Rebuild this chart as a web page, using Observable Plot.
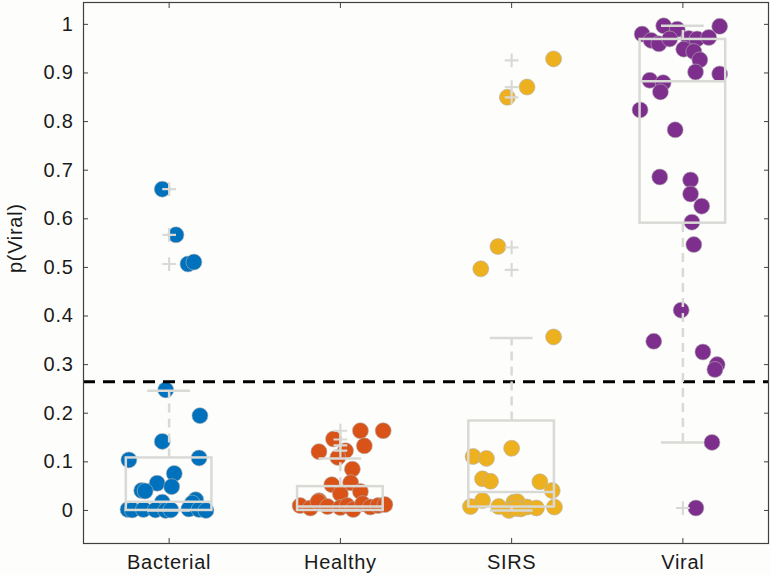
<!DOCTYPE html>
<html><head><meta charset="utf-8">
<script src="https://cdn.jsdelivr.net/npm/d3@7"></script>
<script src="https://cdn.jsdelivr.net/npm/@observablehq/plot@0.6"></script>
<style>
html,body{margin:0;padding:0;background:#fdfdfb;}
#chart svg{display:block;}
#chart svg text{letter-spacing:0.7px;}
</style></head><body><div id="chart"></div>
<script>
const categories = ["Bacterial", "Healthy", "SIRS", "Viral"];
const colors = ["#0072BD", "#D95319", "#EDB120", "#7E2F8E"];
const yTicks = [0, 0.1, 0.2, 0.3, 0.4, 0.5, 0.6, 0.7, 0.8, 0.9, 1];
const yTickLabels = ["0", "0.1", "0.2", "0.3", "0.4", "0.5", "0.6", "0.7", "0.8", "0.9", "1"];
const threshold = 0.265;

// jittered points: value and horizontal jitter (category units)
const bacterialValues = [0.661, 0.567, 0.507, 0.511, 0.248, 0.195, 0.142, 0.104, 0.108, 0.076, 0.056, 0.049, 0.041, 0.040, 0.022, 0.017, 0.015, 0.002, 0.001, 0.002, 0.001, 0.000, 0.001, 0.003, 0.002, 0.000];
const bacterialJitter = [-0.04, 0.04, 0.11, 0.145, -0.02, 0.18, -0.04, -0.235, 0.175, 0.03, -0.07, 0.015, -0.16, -0.14, 0.155, -0.04, 0.135, -0.24, -0.215, -0.15, -0.08, -0.02, 0.01, 0.115, 0.175, 0.215];

const healthyValues = [0.164, 0.164, 0.147, 0.133, 0.121, 0.123, 0.109, 0.085, 0.053, 0.057, 0.039, 0.034, 0.020, 0.010, 0.005, 0.018, 0.008, 0.006, 0.010, 0.002, 0.014, 0.007, 0.010, 0.012];
const healthyJitter = [0.25, 0.117, -0.04, 0.14, -0.125, 0.03, -0.015, 0.07, -0.05, 0.06, 0.117, 0.0, -0.125, -0.235, -0.175, -0.13, -0.075, 0.0, 0.04, 0.075, 0.13, 0.175, 0.22, 0.26];

const sirsValues = [0.929, 0.871, 0.850, 0.543, 0.497, 0.357, 0.128, 0.111, 0.107, 0.065, 0.060, 0.059, 0.041, 0.0205, 0.008, 0.008, 0.017, 0.018, 0.007, 0.005, 0.007, 0.000, 0.003, 0.004];
const sirsJitter = [0.245, 0.09, -0.025, -0.08, -0.18, 0.245, 0.0, -0.225, -0.147, -0.17, -0.123, 0.165, 0.237, -0.17, -0.24, -0.075, 0.013, 0.033, 0.09, 0.145, 0.25, -0.016, 0.053, 0.023];

const viralValues = [0.980, 0.997, 0.990, 0.996, 0.967, 0.960, 0.970, 0.971, 0.970, 0.973, 0.949, 0.944, 0.927, 0.902, 0.898, 0.885, 0.880, 0.861, 0.824, 0.783, 0.686, 0.680, 0.651, 0.626, 0.593, 0.547, 0.412, 0.348, 0.326, 0.300, 0.290, 0.140, 0.005];
const viralJitter = [-0.238, -0.112, -0.033, 0.215, -0.185, -0.14, -0.077, 0.034, 0.083, 0.151, 0.005, 0.064, 0.099, 0.074, 0.215, -0.193, -0.115, -0.131, -0.25, -0.045, -0.135, 0.045, 0.045, 0.11, 0.053, 0.064, -0.01, -0.17, 0.117, 0.2, 0.187, 0.17, 0.076];

// box plot statistics per category
const boxQ1 = [0.0, 0.0, 0.007, 0.591];
const boxMedian = [0.018, 0.008, 0.038, 0.883];
const boxQ3 = [0.108, 0.049, 0.184, 0.969];
const whiskerLow = [0.0, 0.0, 0.0, 0.140];
const whiskerHigh = [0.246, 0.107, 0.355, 0.997];

// outliers per category
const bacterialOutliers = [0.661, 0.567, 0.507];
const healthyOutliers = [0.164, 0.146, 0.134, 0.123];
const sirsOutliers = [0.926, 0.871, 0.850, 0.541, 0.495];
const viralOutliers = [0.005];

const valueSets = [bacterialValues, healthyValues, sirsValues, viralValues];
const jitterSets = [bacterialJitter, healthyJitter, sirsJitter, viralJitter];
const outlierSets = [bacterialOutliers, healthyOutliers, sirsOutliers, viralOutliers];

const points = [];
valueSets.forEach((vals, k) => vals.forEach((v, i) => points.push({cat: categories[k], x: k + 1 + jitterSets[k][i], y: v})));
const outliers = [];
outlierSets.forEach((vals, k) => vals.forEach(v => outliers.push({x: k + 1, y: v})));
const boxes = categories.map((c, k) => ({i: k + 1, q1: boxQ1[k], med: boxMedian[k], q3: boxQ3[k], lo: whiskerLow[k], hi: whiskerHigh[k]}));

const boxHalf = 0.25, capHalf = 0.125;
const gray = "#d9d9d6";
const axisColor = "#404040";
const xTicks = [1, 2, 3, 4];

const chart = Plot.plot({
  width: 771,
  height: 575,
  marginLeft: 83,
  marginRight: 3,
  marginTop: 2,
  marginBottom: 32,
  x: {domain: [0.5, 4.5]},
  y: {domain: [-0.068, 1.045]},
  color: {domain: categories, range: colors},
  style: {background: "#fdfdfb", fontFamily: "'Liberation Sans', Arial, sans-serif", fontSize: "20px", color: "#1a1a1a"},
  marks: [
    Plot.dot(points, {x: "x", y: "y", r: 8, fill: "cat", stroke: "#b4b4b4", strokeWidth: 0.6}),
    Plot.ruleY([threshold], {stroke: "black", strokeWidth: 3, strokeDasharray: "12,8"}),
    Plot.rect(boxes, {x1: d => d.i - boxHalf, x2: d => d.i + boxHalf, y1: "q1", y2: "q3", fill: "none", stroke: gray, strokeWidth: 2.5}),
    Plot.ruleY(boxes, {y: "med", x1: d => d.i - boxHalf, x2: d => d.i + boxHalf, stroke: gray, strokeWidth: 2.5}),
    Plot.ruleX(boxes, {x: "i", y1: "q3", y2: "hi", stroke: gray, strokeWidth: 2.5, strokeDasharray: "9,6"}),
    Plot.ruleX(boxes, {x: "i", y1: "lo", y2: "q1", stroke: gray, strokeWidth: 2.5, strokeDasharray: "9,6"}),
    Plot.ruleY(boxes, {y: "hi", x1: d => d.i - capHalf, x2: d => d.i + capHalf, stroke: gray, strokeWidth: 2.5}),
    Plot.ruleY(boxes, {y: "lo", x1: d => d.i - capHalf, x2: d => d.i + capHalf, stroke: gray, strokeWidth: 2.5}),
    Plot.dot(outliers, {x: "x", y: "y", symbol: "plus", r: 4.5, stroke: gray, strokeWidth: 2.2}),
    Plot.frame({stroke: axisColor, strokeWidth: 1.2}),
    Plot.axisY({ticks: yTicks, tickSize: 0, tickPadding: 10, tickFormat: (d, i) => yTickLabels[i], label: null}),
    Plot.axisY({ticks: yTicks, tickSize: 5, dx: 5, tickFormat: () => "", label: null, stroke: axisColor}),
    Plot.axisY({anchor: "right", ticks: yTicks, tickSize: 5, dx: -5, tickFormat: () => "", label: null, stroke: axisColor}),
    Plot.axisX({ticks: xTicks, tickSize: 0, tickPadding: 11, tickFormat: d => categories[d - 1], label: null}),
    Plot.axisX({ticks: xTicks, tickSize: 5, dy: -5, tickFormat: () => "", label: null, stroke: axisColor}),
    Plot.axisX({anchor: "top", ticks: xTicks, tickSize: 5, dy: 5, tickFormat: () => "", label: null, stroke: axisColor}),
    Plot.text(["p(Viral)"], {frameAnchor: "left", rotate: -90, dx: -68, fontSize: 20, fill: "#1a1a1a"})
  ]
});
document.getElementById("chart").appendChild(chart);
</script>
</body></html>
